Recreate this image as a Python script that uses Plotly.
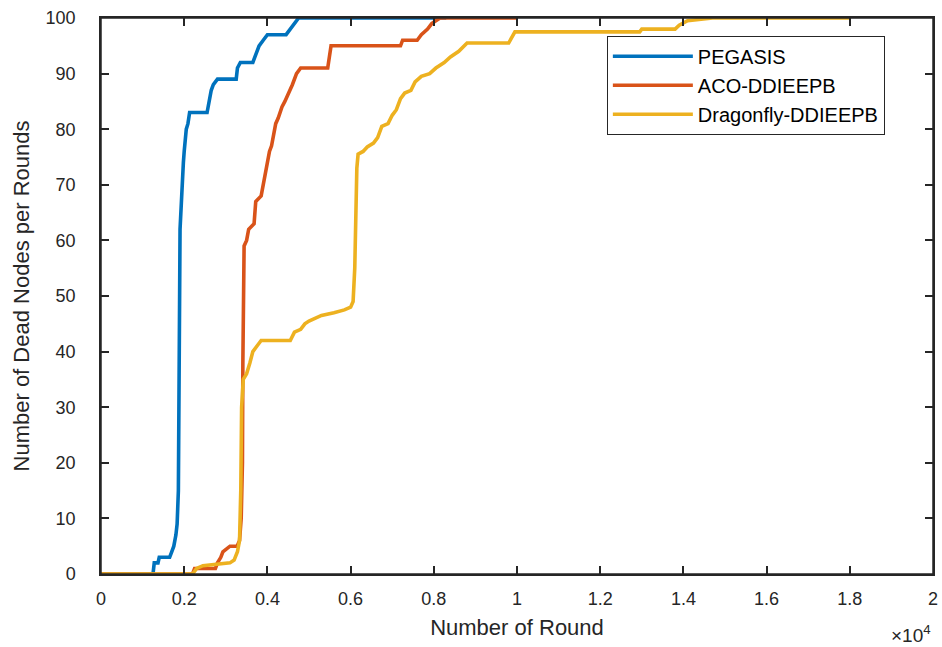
import plotly.graph_objects as go

# ---- data (rounds, dead nodes) ----
pegasis_x = [0, 1250, 1280, 1370, 1400, 1650, 1700, 1750, 1800, 1830, 1860, 1880, 1890, 1900, 1930,
             1950, 1980, 2000, 2050, 2090, 2130, 2550, 2600, 2650, 2700, 2800, 3250, 3280, 3350, 3650,
             3700, 3800, 3900, 4000, 4450, 4550, 4650, 4750, 8300]
pegasis_y = [0, 0, 2, 2, 3, 3, 4, 5, 7, 9, 15, 30, 50, 62, 68,
             72, 74, 76, 80, 81, 83, 83, 85, 87, 88, 89, 89, 91, 92, 92,
             93, 95, 96, 97, 97, 98, 99, 100, 100]

aco_x = [0, 2200, 2250, 2750, 2800, 2880, 2930, 3100, 3270, 3330, 3370, 3400, 3410, 3420, 3440,
         3500, 3550, 3680, 3720, 3850, 3900, 3980, 4050, 4100, 4200, 4260, 4350, 4420, 4550, 4600,
         4700, 4800, 5450, 5530, 7200, 7250, 7600, 7700, 7850, 7950, 8150, 10000]
aco_y = [0, 0, 1, 1, 2, 3, 4, 5, 5, 6, 10, 20, 38, 50, 59,
         60, 62, 63, 67, 68, 70, 74, 76, 77, 81, 82, 84, 85, 87, 88,
         90, 91, 91, 95, 95, 96, 96, 97, 98, 99, 100, 100]

dragonfly_x = [0, 2200, 2300, 2450, 3100, 3200, 3280, 3330, 3360, 3380, 3420, 3500, 3580, 3650, 3750,
               3850, 4550, 4650, 4800, 4900, 5000, 5150, 5300, 5600, 5850, 6000, 6060, 6100, 6130, 6150,
               6180, 6300, 6400, 6550, 6650, 6750, 6900, 7000, 7100, 7200, 7300, 7450, 7550, 7700, 7900,
               8050, 8250, 8400, 8600, 8800, 9800, 9950, 12950, 13000, 13800, 13900, 14100, 14700, 18000]
dragonfly_y = [0, 0, 1, 1.5, 2, 2.5, 4, 6, 15, 30, 35, 36, 38, 40, 41,
               42, 42, 43.5, 44, 45, 45.5, 46, 46.5, 47, 47.5, 48, 49, 55, 65, 73,
               75.5, 76, 76.8, 77.5, 78.5, 80.5, 81, 82.5, 83.5, 85.5, 86.5, 87, 88.5, 89.5, 90,
               91, 92, 93, 94, 95.5, 95.5, 97.5, 97.5, 98, 98, 98.7, 99.5, 100, 100]

series_names = ["PEGASIS", "ACO-DDIEEPB", "Dragonfly-DDIEEPB"]
series_colors = ["#0072BD", "#D95319", "#EDB120"]

x_tickvals = [0, 2000, 4000, 6000, 8000, 10000, 12000, 14000, 16000, 18000, 20000]
x_ticktext = ["0", "0.2", "0.4", "0.6", "0.8", "1", "1.2", "1.4", "1.6", "1.8", "2"]
y_tickvals = [0, 10, 20, 30, 40, 50, 60, 70, 80, 90, 100]

FONT = "Liberation Sans, Arial, sans-serif"
AX = "#262626"

fig = go.Figure()
for xs, ys, name, col in zip([pegasis_x, aco_x, dragonfly_x],
                             [pegasis_y, aco_y, dragonfly_y],
                             series_names, series_colors):
    fig.add_trace(go.Scatter(x=xs, y=ys, mode="lines", name=name,
                             line=dict(color=col, width=3.6)))

axis_common = dict(showgrid=False, zeroline=False, showline=True, linecolor=AX, linewidth=1.5,
                   mirror="allticks", ticks="inside", ticklen=8, tickwidth=1.5, tickcolor=AX,
                   automargin=False, ticklabeloverflow="allow",
                   tickfont=dict(family=FONT, size=18, color=AX))

fig.update_layout(
    width=942, height=647,
    margin=dict(l=101, r=9, t=18, b=73),
    paper_bgcolor="white", plot_bgcolor="white",
    font=dict(family=FONT, color=AX),
    xaxis=dict(range=[0, 20000], tickvals=x_tickvals, ticktext=x_ticktext, ticklabelstandoff=8,
               title=dict(text="Number of Round", font=dict(family=FONT, size=22, color=AX), standoff=11),
               **axis_common),
    yaxis=dict(range=[0, 100], tickvals=y_tickvals, ticklabelstandoff=20,
               title=dict(text="Number of Dead Nodes per Rounds", font=dict(family=FONT, size=22, color=AX), standoff=10),
               **axis_common),
    legend=dict(x=0.608, y=0.968, xanchor="left", yanchor="top",
                bgcolor="white", bordercolor=AX, borderwidth=1,
                font=dict(family=FONT, size=20, color="black"),
                itemwidth=80, tracegroupgap=0),
    showlegend=True,
)

# axes box frame
fig.add_shape(type="rect", xref="paper", yref="paper", x0=0, x1=1, y0=0, y1=1,
              line=dict(color=AX, width=1.5), fillcolor="rgba(0,0,0,0)", layer="above")

fig.add_annotation(text="×10<sup>4</sup>", xref="paper", yref="paper", x=1.0, y=-0.108,
                   xanchor="right", yanchor="middle", showarrow=False,
                   font=dict(family=FONT, size=19, color=AX))

# remove the default 8px page margin so the figure sits at the window's top-left corner
fig.write_html("out.html", config={"displayModeBar": False},
               post_script="document.body.style.margin='0';")
